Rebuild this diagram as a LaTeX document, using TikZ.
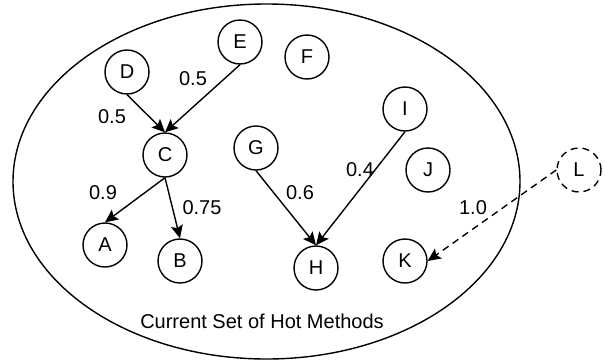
\documentclass[tikz,border=0pt]{standalone}
\usepackage{fontspec}
\setmainfont{Liberation Sans}
\usetikzlibrary{arrows.meta}
\begin{document}
\begin{tikzpicture}[x=1pt,y=-1pt,
  mnode/.style={circle,draw,line width=1.4pt,minimum size=44pt,inner sep=0pt,font=\fontsize{20}{24}\selectfont},
  dnode/.style={mnode,dash pattern=on 7pt off 5pt},
  edge/.style={line width=1.4pt,-{Stealth[length=13pt,width=12pt,inset=2.5pt]}},
  dedge/.style={edge,dash pattern=on 7pt off 5pt},
  wlabel/.style={font=\fontsize{20}{24}\selectfont,inner sep=0pt}]
\useasboundingbox (0,0) rectangle (605,362);
\draw[line width=1.4pt] (266.5,181.5) ellipse [x radius=253.5, y radius=177.5];
\node[anchor=base,wlabel] (title) at (262,328) {Current Set of Hot Methods};
\node[mnode] (A) at (105,245) {A};
\node[mnode] (B) at (180,261) {B};
\node[mnode] (C) at (165,155) {C};
\node[mnode] (D) at (127,72) {D};
\node[mnode] (E) at (240,42) {E};
\node[mnode] (F) at (307,57) {F};
\node[mnode] (G) at (256,148) {G};
\node[mnode] (H) at (316,268) {H};
\node[mnode] (I) at (405,109) {I};
\node[mnode] (J) at (428,170) {J};
\node[mnode] (K) at (405,261) {K};
\node[dnode] (L) at (579,170) {L};
\draw[edge] (D.south) -- (C.north);
\draw[edge] (E.south) -- (C.north);
\draw[edge] (C.south) -- (A.north);
\draw[edge] (C.south) -- (B.north);
\draw[edge] (G.south) -- (H.north);
\draw[edge] (I.south) -- (H.north);
\draw[dedge] (L.west) -- (K.east);
\node[wlabel] (l1) at (112,117) {0.5};
\node[wlabel] (l2) at (193,79) {0.5};
\node[wlabel] (l3) at (103,193) {0.9};
\node[wlabel] (l4) at (202,208) {0.75};
\node[wlabel] (l5) at (300,193) {0.6};
\node[wlabel] (l6) at (360,170) {0.4};
\node[wlabel] (l7) at (473,208) {1.0};
\end{tikzpicture}
\end{document}
